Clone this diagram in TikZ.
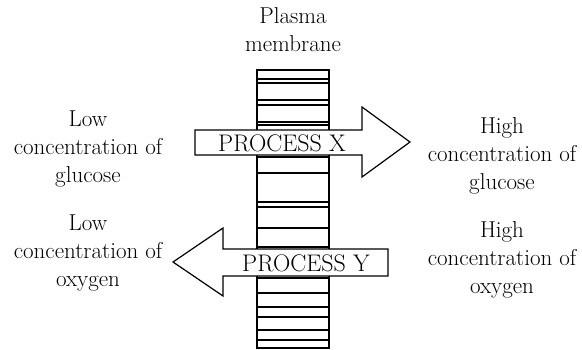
\documentclass[tikz,border=0pt]{standalone}
\begin{document}
\begin{tikzpicture}[x=1pt,y=-1pt,
  lbl/.style={align=center,font=\fontsize{23}{28}\selectfont,inner sep=0pt},
  arrowshape/.style={draw=black,fill=white,line width=1.2pt,line join=miter},
  proc/.style={font=\fontsize{24}{26}\selectfont,inner sep=0pt},
  memb/.style={draw=black,line width=1.4pt},
  stripe/.style={draw=black,line width=1.1pt}]
\useasboundingbox (0,0) rectangle (582,349);
% membrane
\draw[memb] (257,349) -- (257,70) -- (329,70) -- (329,349);
\foreach \yy in {79,83,100,105,122,125,157,173,202,207,228,247,278,293,307,317,330,340,348}
  \draw[stripe] (257,\yy) -- (329,\yy);
% process X arrow
\draw[arrowshape] (195,130) -- (362,130) -- (362,107) -- (410,142) -- (362,177) -- (362,155) -- (195,155) -- cycle;
\node[proc] (px) at (282,143) {PROCESS X};
% process Y arrow
\draw[arrowshape] (388,249) -- (223,249) -- (223,228) -- (173,262) -- (223,296) -- (223,276) -- (388,276) -- cycle;
\node[proc] (py) at (306,263) {PROCESS Y};
% labels
\node[lbl] (pm) at (293,30) {Plasma\\membrane};
\node[lbl] (lg) at (88,149) {Low\\concentration of\\glucose};
\node[lbl] (lo) at (88,253) {Low\\concentration of\\oxygen};
\node[lbl] (hg) at (502,156) {High\\concentration of\\glucose};
\node[lbl] (ho) at (502,260) {High\\concentration of\\oxygen};
\end{tikzpicture}
\end{document}
